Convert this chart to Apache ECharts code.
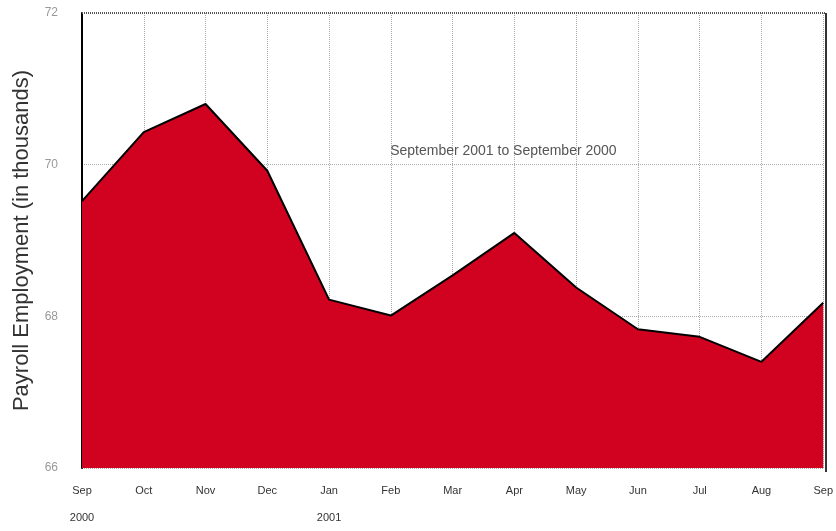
<!DOCTYPE html>
<html><head><meta charset="utf-8">
<script src="https://cdn.jsdelivr.net/npm/echarts@6/dist/echarts.min.js"></script>
<style>html,body{margin:0;padding:0;background:#fff}#c{width:836px;height:531px}</style>
</head><body><div id="c"></div>
<script>
const categories = ['Sep','Oct','Nov','Dec','Jan','Feb','Mar','Apr','May','Jun','Jul','Aug','Sep'];
const yearLabels = ['2000','','','','2001','','','','','','','',''];
const employment = [69.52, 70.43, 70.8, 69.92, 68.22, 68.01, 68.54, 69.1, 68.38, 67.83, 67.73, 67.4, 68.18];
const yTicks = [66, 68, 70, 72];
const note = 'September 2001 to September 2000';

const chart = echarts.init(document.getElementById('c'));
chart.setOption({
  animation: false,
  grid: {left: 82, right: 10, top: 13, bottom: 59},
  xAxis: {
    type: 'category', boundaryGap: false, data: categories,
    axisLine: {show: false}, axisTick: {show: false},
    axisLabel: {
      color: '#333', fontSize: 11, fontFamily: 'Arial', margin: 9, lineHeight: 27,
      formatter: (v, i) => yearLabels[i] ? v + '\n' + yearLabels[i] : v
    },
    splitLine: {show: true, lineStyle: {color: '#aaa', type: 'dotted', width: 1}}
  },
  yAxis: {
    type: 'value', min: yTicks[0], max: yTicks[yTicks.length-1], interval: 2,
    name: 'Payroll Employment (in thousands)', nameLocation: 'middle', nameGap: 49,
    nameTextStyle: {color: '#333', fontSize: 22, fontFamily: 'Arial'},
    axisLine: {show: true, lineStyle: {color: '#000', width: 2}},
    axisTick: {show: false},
    axisLabel: {color: '#999', fontSize: 12, fontFamily: 'Arial', margin: 24},
    splitLine: {show: true, lineStyle: {color: '#aaa', type: 'dotted', width: 1}}
  },
  graphic: [
    {type: 'line', shape: {x1: 82, y1: 13, x2: 826, y2: 13}, style: {stroke: '#555', lineWidth: 2, lineDash: [1, 1]}, z: 10},
    {type: 'line', shape: {x1: 826, y1: 13, x2: 826, y2: 472}, style: {stroke: '#333', lineWidth: 2}, z: 10}
  ],
  series: [{
    type: 'line', data: employment, symbol: 'none',
    lineStyle: {color: '#000', width: 2},
    areaStyle: {color: '#d0021f', opacity: 1, origin: 'start'},
    markPoint: {
      symbol: 'rect', symbolSize: 0,
      label: {show: true, formatter: note, color: '#555', fontSize: 14, fontFamily: 'Arial', offset: [-11, 0]},
      data: [{coord: [7, 70.18]}]
    }
  }]
});
</script></body></html>
